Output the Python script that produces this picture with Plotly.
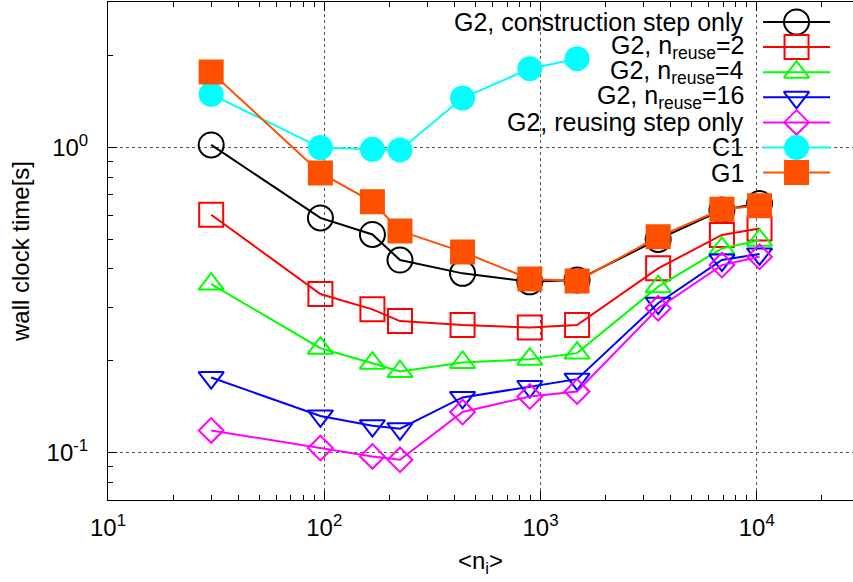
import plotly.graph_objects as go

# ---------------- data ----------------
n_i = [30, 96, 167, 224, 436, 892, 1476, 3500, 6900, 10300]
n_i_c1 = [30, 96, 167, 224, 436, 892, 1476]

g2_construction = [1.02, 0.588, 0.519, 0.428, 0.387, 0.363, 0.368, 0.500, 0.624, 0.656]
g2_reuse2 = [0.602, 0.331, 0.295, 0.270, 0.262, 0.257, 0.262, 0.402, 0.517, 0.543]
g2_reuse4 = [0.357, 0.220, 0.1965, 0.1845, 0.1975, 0.2025, 0.212, 0.350, 0.467, 0.497]
g2_reuse16 = [0.1763, 0.132, 0.1226, 0.1198, 0.1517, 0.1648, 0.1742, 0.309, 0.428, 0.448]
g2_reusing = [0.1183, 0.1036, 0.0972, 0.0948, 0.1359, 0.1528, 0.1587, 0.2974, 0.412, 0.4386]
c1 = [1.494, 1.0, 0.987, 0.982, 1.453, 1.813, 1.955]
g1 = [1.767, 0.826, 0.664, 0.533, 0.455, 0.371, 0.365, 0.51, 0.628, 0.644]

names = [
    "G2, construction step only",
    "G2, n<sub>reuse</sub>=2",
    "G2, n<sub>reuse</sub>=4",
    "G2, n<sub>reuse</sub>=16",
    "G2, reusing step only",
    "C1",
    "G1",
]

x_tickvals = [10, 100, 1000, 10000]
x_ticktext = ["10<sup>1</sup>", "10<sup>2</sup>", "10<sup>3</sup>", "10<sup>4</sup>"]
y_tickvals = [0.1, 1]
y_ticktext = ["10<sup>-1</sup>", "10<sup>0</sup>"]

# ---------------- styles ----------------
FONT = "Liberation Sans, Arial, sans-serif"
W, H = 853, 582
ML, MR, MT, MB = 107.5, 0, 2, 82

series = [
    (n_i, g2_construction, "#000000", "circle-open", 25),
    (n_i, g2_reuse2, "#ff0000", "square-open", 24),
    (n_i, g2_reuse4, "#00ff00", "triangle-up-open", 22),
    (n_i, g2_reuse16, "#0000ff", "triangle-down-open", 22),
    (n_i, g2_reusing, "#ff00ff", "diamond-open", 19),
    (n_i_c1, c1, "#00ffff", "circle", 23),
    (n_i, g1, "#ff5000", "square", 23),
]

fig = go.Figure()
for (xs, ys, col, sym, sz), nm in zip(series, names):
    fig.add_trace(go.Scatter(
        x=xs, y=ys, mode="lines+markers", name=nm, showlegend=False,
        line=dict(color=col, width=2),
        marker=dict(symbol=sym, size=sz, color=col, line=dict(color=col, width=2)),
    ))

# ---------------- manual legend (text left of sample, as in reference) ----------------
PW = W - ML - MR
PH = H - MT - MB


def fx(px):
    return (px - ML) / PW


def fy(py):
    return (H - MB - py) / PH


row0, row_step = 22.0, 25.1
text_right = 746
samp_x0, samp_x1 = 763, 830
samp_xm = (samp_x0 + samp_x1) / 2

annotations = []
shapes = []
# opaque key area hiding grid lines
shapes.append(dict(type="rect", xref="paper", yref="paper", layer="between",
                   x0=fx(448), x1=fx(842), y0=fy(186), y1=1,
                   fillcolor="white", line=dict(width=0)))
for i, ((xs, ys, col, sym, sz), nm) in enumerate(zip(series, names)):
    ry = row0 + row_step * i
    annotations.append(dict(xref="paper", yref="paper", x=fx(text_right), y=fy(ry),
                            xanchor="right", yanchor="middle", showarrow=False,
                            text=nm, font=dict(family=FONT, size=25, color="black")))
    fig.add_trace(go.Scatter(
        x=[fx(samp_x0), fx(samp_xm), fx(samp_x1)], y=[fy(ry)] * 3,
        xaxis="x2", yaxis="y2", mode="lines", showlegend=False, hoverinfo="skip",
        line=dict(color=col, width=2)))
    fig.add_trace(go.Scatter(
        x=[fx(samp_xm)], y=[fy(ry)], xaxis="x2", yaxis="y2", mode="markers",
        showlegend=False, hoverinfo="skip",
        marker=dict(symbol=sym, size=sz, color=col, line=dict(color=col, width=2))))

minor_x = [m * 10 ** d for d in range(1, 5) for m in range(2, 10)]
minor_y = [m * 10 ** d for d in (-2, -1, 0) for m in range(2, 10)]

axis_common = dict(
    showline=True, linecolor="black", linewidth=1,
    ticks="inside", ticklen=9, tickwidth=1, tickcolor="black",
    showgrid=True, gridcolor="#555555", griddash="dot", gridwidth=1,
    zeroline=False,
    tickfont=dict(family=FONT, size=24, color="black"),
)

fig.update_layout(
    width=W, height=H,
    margin=dict(l=ML, r=MR, t=MT, b=MB, autoexpand=False),
    paper_bgcolor="white", plot_bgcolor="white",
    font=dict(family=FONT, size=24, color="black"),
    xaxis=dict(
        type="log", range=[1, 1 + (W - ML) / 216.4], mirror="ticks",
        tickvals=x_tickvals, ticktext=x_ticktext,
        minor=dict(tickvals=minor_x, ticks="inside", ticklen=5, tickcolor="black", showgrid=False),
        title=dict(text="&lt;n<sub>i</sub>&gt;", standoff=12,
                   font=dict(family=FONT, size=24, color="black")),
        ticklabelstandoff=6,
        **axis_common,
    ),
    yaxis=dict(
        type="log", range=[-1.155, 0.477],
        tickvals=y_tickvals, ticktext=y_ticktext,
        minor=dict(tickvals=minor_y, ticks="inside", ticklen=5, tickcolor="black", showgrid=False),
        title=dict(text="wall clock time[s]", standoff=10,
                   font=dict(family=FONT, size=24, color="black")),
        ticklabelstandoff=14,
        **axis_common,
    ),
    xaxis2=dict(overlaying="x", range=[0, 1], visible=False, fixedrange=True),
    yaxis2=dict(overlaying="y", range=[0, 1], visible=False, fixedrange=True),
    annotations=annotations,
    shapes=shapes,
)

fig.write_html(
    "out.html",
    config={"displayModeBar": False},
    post_script="document.body.style.margin='0px';document.body.style.overflow='hidden';",
)
